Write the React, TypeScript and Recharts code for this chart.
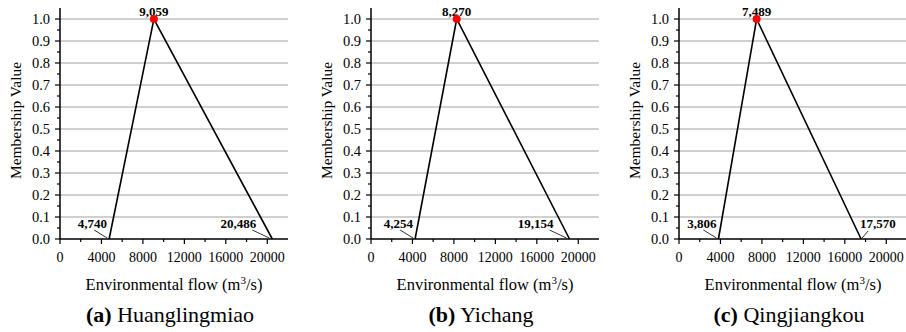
import React from "react";
import { LineChart, Line, XAxis, YAxis, ReferenceLine } from "recharts";

const stations = ["Huanglingmiao", "Yichang", "Qingjiangkou"];
const letters = ["(a)", "(b)", "(c)"];
const lowerFlow = [4740, 4254, 3806];
const peakFlow = [9059, 8270, 7489];
const upperFlow = [20486, 19154, 17570];
// membership at lower bound, peak, upper bound
const membership = [0, 1, 0];
const upperLabelSide = ["left", "left", "right"];

const xTicks = [0, 2000, 4000, 6000, 8000, 10000, 12000, 14000, 16000, 18000, 20000];
const yTicks = [
  0, 0.05, 0.1, 0.15, 0.2, 0.25, 0.3, 0.35, 0.4, 0.45, 0.5, 0.55, 0.6, 0.65, 0.7, 0.75, 0.8,
  0.85, 0.9, 0.95, 1.0,
];
const gridY = [0.1, 0.2, 0.3, 0.4, 0.5, 0.6, 0.7, 0.8, 0.9, 1.0];

const font = '"Liberation Serif", "Times New Roman", serif';
const panelLeft = [0, 311, 619];

const fmt = (v: number) => v.toLocaleString("en-US");

function XTick(props: any) {
  const { x, y, payload } = props;
  const major = payload.value % 4000 === 0;
  return (
    <g>
      <line x1={x} y1={y} x2={x} y2={y + (major ? 5 : 3)} stroke="#000" strokeWidth={1.2} />
      {major && (
        <text x={x} y={y + 23} textAnchor="middle" fontSize={14} fontFamily={font} fill="#000">
          {payload.value}
        </text>
      )}
    </g>
  );
}

function YTick(props: any) {
  const { x, y, payload } = props;
  const major = Math.round(payload.value * 100) % 10 === 0;
  return (
    <g>
      <line x1={x} y1={y} x2={x - (major ? 5 : 3)} y2={y} stroke="#000" strokeWidth={1.2} />
      {major && (
        <text x={x - 10} y={y} dy="0.35em" textAnchor="end" fontSize={14.5} fontFamily={font} fill="#000">
          {payload.value.toFixed(1)}
        </text>
      )}
    </g>
  );
}

function Panel({ i }: { i: number }) {
  const data = [
    { x: lowerFlow[i], y: membership[0] },
    { x: peakFlow[i], y: membership[1] },
    { x: upperFlow[i], y: membership[2] },
  ];

  const renderDot = (p: any) => {
    const { cx, cy, index, payload } = p;
    const text = fmt(payload.x);
    const lbl = { fontSize: 13, fontWeight: 700, fontFamily: font, fill: "#000" };
    if (index === 1) {
      return (
        <g key={`d${index}`}>
          <text x={cx} y={cy - 3} textAnchor="middle" {...lbl}>{text}</text>
          <circle cx={cx} cy={cy} r={4} fill="#ff0000" />
        </g>
      );
    }
    if (index === 0) {
      return (
        <g key={`d${index}`}>
          <text x={cx - 2} y={cy - 11} textAnchor="end" {...lbl}>{text}</text>
          <line x1={cx - 15} y1={cy - 9} x2={cx - 2} y2={cy - 1} stroke="#000" strokeWidth={0.8} />
        </g>
      );
    }
    if (upperLabelSide[i] === "right") {
      return (
        <g key={`d${index}`}>
          <text x={cx - 1} y={cy - 11} textAnchor="start" {...lbl}>{text}</text>
          <line x1={cx + 1} y1={cy - 1} x2={cx + 7} y2={cy - 8} stroke="#000" strokeWidth={0.8} />
        </g>
      );
    }
    return (
      <g key={`d${index}`}>
        <text x={cx - 16} y={cy - 11} textAnchor="end" {...lbl}>{text}</text>
        <line x1={cx - 20} y1={cy - 9} x2={cx - 3} y2={cy - 1} stroke="#000" strokeWidth={0.8} />
      </g>
    );
  };

  const xTitle = (p: any) => {
    const vb = p.viewBox;
    const cx = vb.x + vb.width / 2;
    return (
      <g>
        <text x={cx} y={vb.y + 51} textAnchor="middle" fontSize={16.5} fontFamily={font} fill="#000">
          Environmental flow (m
          <tspan dy={-6} fontSize={11}>3</tspan>
          <tspan dy={6}>/s)</tspan>
        </text>
        <text x={cx - 4} y={vb.y + 83} textAnchor="middle" fontSize={22} fontFamily={font} fill="#000">
          <tspan fontWeight={700}>{letters[i]}</tspan> {stations[i]}
        </text>
      </g>
    );
  };

  const yTitle = (p: any) => {
    const vb = p.viewBox;
    const cy = vb.y + vb.height / 2 - 3;
    return (
      <text
        x={21}
        y={cy}
        transform={`rotate(-90, 21, ${cy})`}
        textAnchor="middle"
        fontSize={15.5}
        fontFamily={font}
        fill="#000"
      >
        Membership Value
      </text>
    );
  };

  return (
    <div style={{ position: "absolute", left: panelLeft[i], top: 0 }}>
      <LineChart width={300} height={332} data={data} margin={{ top: 8, right: 12, bottom: 0, left: 0 }}>
        {gridY.map((v) => (
          <ReferenceLine key={v} y={v} stroke="#a0a0a0" strokeWidth={1} />
        ))}
        <XAxis
          type="number"
          dataKey="x"
          domain={[0, 22000]}
          ticks={xTicks}
          interval={0}
          tick={<XTick />}
          tickLine={false}
          tickSize={0}
          tickMargin={0}
          height={93}
          axisLine={{ stroke: "#000", strokeWidth: 1.5 }}
          label={xTitle}
        />
        <YAxis
          type="number"
          dataKey="y"
          domain={[0, 1.05]}
          ticks={yTicks}
          interval={0}
          tick={<YTick />}
          tickLine={false}
          tickSize={0}
          tickMargin={0}
          width={60}
          axisLine={{ stroke: "#000", strokeWidth: 1.5 }}
          label={yTitle}
        />
        <Line
          type="linear"
          dataKey="y"
          stroke="#000"
          strokeWidth={1.6}
          dot={renderDot}
          activeDot={false}
          isAnimationActive={false}
        />
      </LineChart>
    </div>
  );
}

export default function App() {
  return (
    <div
      style={{
        position: "absolute",
        left: 0,
        top: 0,
        width: 906,
        height: 332,
        overflow: "hidden",
        background: "#fff",
      }}
    >
      {[0, 1, 2].map((i) => (
        <Panel key={i} i={i} />
      ))}
    </div>
  );
}
